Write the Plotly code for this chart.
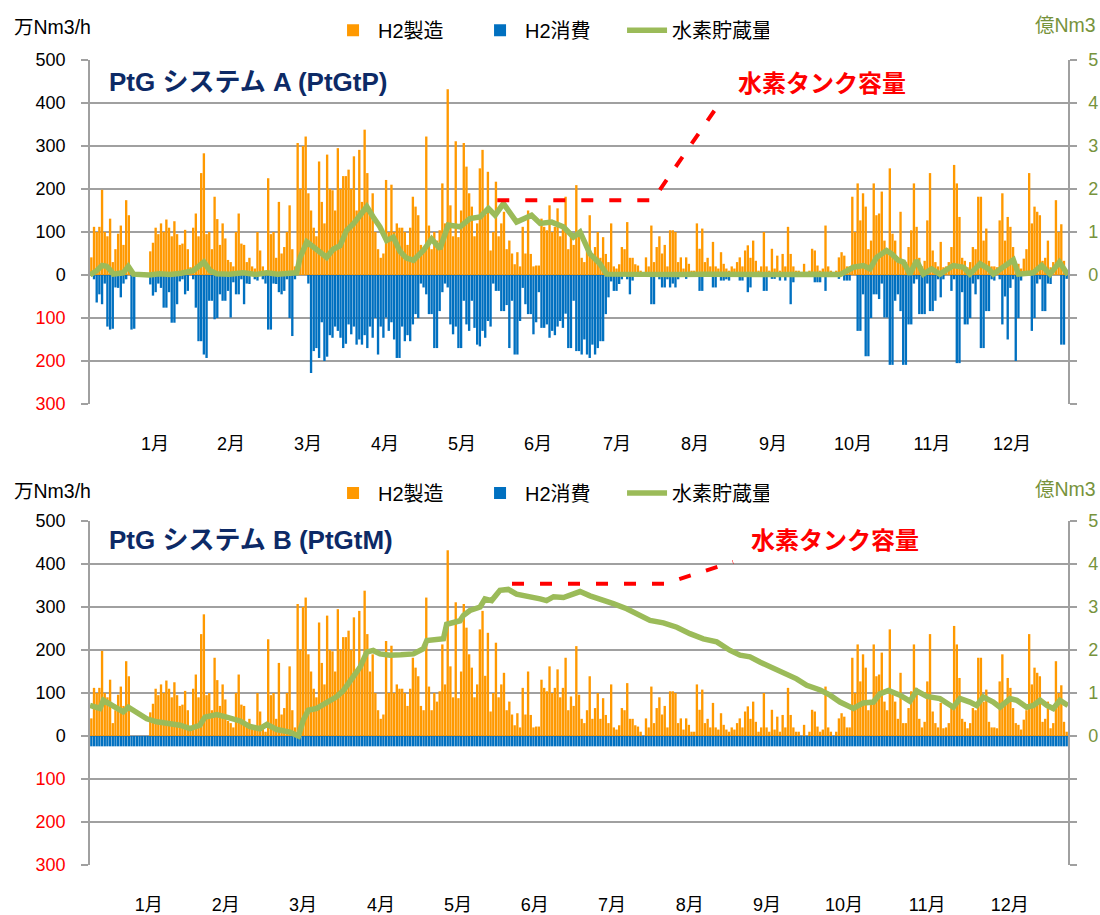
import plotly.graph_objects as go
from plotly.subplots import make_subplots

# ---------------- data ----------------
MONTHS = ["1月", "2月", "3月", "4月", "5月", "6月", "7月", "8月", "9月", "10月", "11月", "12月"]

# daily peak of hydrogen production, 万Nm3/h (same for both systems)
PRODUCTION = [
    41, 112, 100, 112, 198, 100, 90, 131, 30, 60, 96, 115, 70, 174, 139, 0, 0, 0, 0, 0,
    0, 0, 55, 75, 110, 95, 120, 100, 129, 110, 90, 125, 95, 70, 73, 105, 60, 18, 110, 143,
    90, 237, 283, 95, 100, 60, 182, 130, 70, 120, 85, 35, 30, 20, 100, 143, 73, 70, 30, 40,
    20, 15, 100, 57, 20, 10, 225, 95, 100, 40, 170, 50, 65, 100, 162, 60, 20, 307, 200, 300,
    322, 190, 150, 110, 90, 264, 170, 120, 280, 200, 197, 150, 295, 200, 230, 230, 245, 200, 276, 150,
    291, 170, 338, 237, 150, 190, 100, 60, 40, 50, 221, 100, 210, 100, 120, 110, 110, 100, 70, 110,
    182, 159, 139, 70, 60, 322, 115, 60, 100, 80, 104, 213, 120, 432, 162, 90, 311, 88, 150, 307,
    252, 190, 159, 90, 120, 248, 291, 140, 240, 57, 100, 217, 90, 120, 147, 60, 80, 50, 25, 53,
    20, 112, 50, 150, 49, 20, 22, 22, 131, 112, 104, 162, 100, 112, 155, 90, 112, 182, 60, 92,
    70, 209, 96, 40, 30, 60, 139, 40, 65, 100, 40, 88, 49, 30, 120, 20, 15, 25, 65, 60,
    123, 40, 40, 25, 22, 10, 0, 41, 20, 115, 30, 65, 90, 50, 70, 20, 104, 104, 100, 30,
    41, 15, 41, 26, 10, 10, 120, 61, 108, 30, 40, 20, 77, 20, 15, 53, 26, 15, 10, 20,
    15, 30, 41, 20, 57, 69, 40, 80, 33, 10, 20, 100, 20, 10, 61, 15, 45, 10, 49, 20,
    112, 49, 20, 10, 10, 0, 26, 0, 10, 61, 57, 22, 10, 15, 115, 20, 10, 0, 10, 41,
    53, 45, 20, 20, 182, 100, 213, 127, 190, 159, 60, 80, 213, 139, 143, 194, 80, 60, 248, 96,
    80, 40, 147, 30, 30, 65, 104, 213, 112, 40, 20, 33, 127, 237, 57, 30, 20, 77, 18, 20,
    30, 65, 256, 213, 135, 40, 33, 18, 30, 65, 60, 182, 182, 80, 108, 33, 20, 20, 18, 127,
    190, 80, 135, 112, 65, 30, 26, 15, 38, 60, 237, 120, 159, 147, 139, 33, 40, 80, 18, 30,
    174, 100, 118, 33, 10,
]

# daily peak of hydrogen consumption, system A, 万Nm3/h (drawn downward)
CONSUMPTION_A = [
    0, 10, 64, 45, 68, 20, 120, 127, 125, 29, 30, 52, 20, 10, 0, 127, 125, 0, 0, 0,
    0, 0, 22, 48, 40, 20, 30, 76, 76, 40, 111, 111, 68, 15, 10, 45, 37, 0, 10, 76,
    154, 154, 185, 193, 60, 60, 103, 100, 45, 60, 60, 37, 99, 17, 45, 45, 10, 68, 20, 21,
    0, 10, 13, 0, 10, 20, 127, 127, 20, 21, 40, 45, 37, 10, 100, 142, 10, 0, 0, 0,
    0, 20, 228, 177, 170, 193, 110, 200, 190, 140, 146, 120, 130, 146, 170, 160, 115, 138, 120, 162,
    150, 162, 140, 170, 120, 146, 100, 185, 120, 146, 99, 130, 110, 150, 193, 193, 120, 154, 140, 154,
    115, 91, 100, 20, 29, 45, 91, 91, 170, 170, 84, 40, 20, 29, 115, 138, 120, 170, 170, 60,
    115, 130, 60, 123, 162, 166, 130, 146, 107, 120, 20, 37, 37, 84, 84, 70, 170, 60, 185, 185,
    107, 30, 68, 91, 91, 138, 110, 40, 123, 123, 115, 146, 130, 140, 120, 107, 123, 90, 170, 170,
    60, 177, 177, 185, 150, 185, 193, 162, 185, 170, 154, 154, 91, 52, 15, 37, 37, 21, 10, 0,
    10, 45, 13, 0, 0, 0, 0, 0, 0, 68, 68, 0, 10, 29, 29, 10, 29, 20, 29, 10,
    0, 0, 9, 0, 0, 0, 0, 37, 37, 0, 0, 0, 29, 29, 0, 13, 13, 10, 13, 0,
    0, 0, 13, 13, 0, 40, 29, 0, 0, 0, 0, 37, 37, 0, 9, 9, 0, 13, 0, 13,
    0, 68, 17, 0, 0, 0, 0, 0, 0, 0, 17, 17, 17, 0, 37, 0, 0, 0, 0, 9,
    0, 13, 13, 13, 0, 0, 130, 130, 45, 189, 189, 100, 45, 45, 56, 20, 99, 99, 209, 209,
    60, 45, 84, 209, 209, 115, 115, 20, 10, 91, 91, 91, 20, 84, 84, 60, 10, 52, 10, 0,
    0, 37, 10, 205, 205, 40, 115, 115, 100, 20, 45, 10, 170, 170, 84, 84, 10, 13, 0, 10,
    115, 50, 150, 30, 10, 200, 100, 13, 0, 0, 0, 130, 100, 20, 10, 84, 84, 20, 21, 0,
    0, 0, 162, 162, 9,
]

# system B draws a flat band of about 24 万Nm3/h all year
CONSUMPTION_B = [24] * 365

# hydrogen stored, 億Nm3 : (day of year, value)
STORAGE_A_DAY = [0, 2.5, 4.5, 6.2, 7.5, 8.7, 12.4, 14.3, 16.2, 22, 26, 30, 34, 38.6, 42.5, 44.8, 47.3,
                 52, 57.2, 62, 66, 70, 74.6, 77.1, 78.4, 80.9, 83.4, 85.8, 88.3, 90.8, 93.3, 95.8,
                 98.3, 100.8, 103.3, 105.7, 108.2, 110.7, 113.2, 115.7, 118, 120.7, 124.4, 127.5,
                 130.6, 133.7, 138.1, 141.8, 145.6, 148.7, 151.2, 154.3, 159.2, 164.8, 168, 172.3,
                 176.7, 180.4, 182.9, 186.6, 190.3, 192.8, 200, 210, 220, 230, 240, 250, 260, 270,
                 280, 284.9, 288.6, 291.1, 293.6, 297.3, 299.2, 301.7, 303.6, 306, 308.5, 311,
                 314.1, 317.2, 322.2, 326, 328.4, 332.2, 335.3, 337.1, 342.1, 344.6, 346.5, 352,
                 355.2, 358.3, 361.8, 365]
STORAGE_A = [0, 0.1, 0.22, 0.2, 0.12, 0.02, 0.05, 0.2, 0.02, 0.0, 0.03, 0.01, 0.04, 0.1, 0.3, 0.1, 0.03,
             0.02, 0.05, 0.01, 0.05, 0.02, 0.04, 0.05, 0.4, 0.77, 0.65, 0.53, 0.41, 0.6, 0.68, 1.04,
             1.19, 1.39, 1.59, 1.35, 1.12, 0.8, 0.88, 0.55, 0.4, 0.34, 0.57, 0.84,
             0.61, 1.16, 1.12, 1.31, 1.35, 1.55, 1.39, 1.66, 1.23, 1.39, 1.2, 1.23,
             1.12, 0.88, 1.0, 0.49, 0.26, 0.02, 0.01, 0.02, 0.01, 0.02, 0.01, 0.02, 0.01, 0.02,
             0.01, 0.18, 0.22, 0.14, 0.41, 0.57, 0.49, 0.34, 0.3, 0.02, 0.34, 0.02,
             0.14, 0.02, 0.22, 0.18, 0.02, 0.26, 0.14, 0.02, 0.26, 0.35, 0.02, 0.05,
             0.22, 0.02, 0.3, 0]

STORAGE_B_DAY = [0, 3.7, 5, 8.7, 12.4, 14.3, 17.4, 21.2, 24.9, 29.9, 33.6, 37.3, 41, 42.9, 47.3, 51, 56,
                 59.7, 63.4, 66, 69.7, 74.6, 77.8, 79.6, 81.5, 84.6, 88.3, 92, 94.6, 98.3, 100.8,
                 103.3, 105.7, 108.2, 112, 116, 120.7, 124.4, 125.7, 131.9, 133.1, 138.1, 139.3,
                 141.8, 145.6, 147.4, 149.9, 153, 156.1, 159.2, 163, 168, 170.4, 173, 176.7, 180.4,
                 182.9, 186.6, 190.3, 195.3, 200.3, 205.3, 209, 214, 219, 223.9, 228.9, 233.9,
                 238.9, 242.6, 246.3, 250, 255, 260, 263.7, 267.5, 272.5, 276.2, 279.9, 284.9,
                 288.6, 292.4, 294.8, 298, 302.3, 306, 308.5, 312.3, 317.2, 322.2, 324.7, 328.4,
                 330.9, 333.4, 337.1, 339.6, 343.4, 345.9, 349.6, 352.1, 354.6, 357.1, 359.5,
                 362, 365]
STORAGE_B = [0.71, 0.64, 0.83, 0.71, 0.56, 0.67, 0.56, 0.4, 0.33, 0.3, 0.25, 0.17, 0.25, 0.44, 0.5, 0.44, 0.35,
             0.22, 0.17, 0.27, 0.15, 0.09, 0.0, 0.37, 0.6, 0.64, 0.77, 0.91, 1.06, 1.37, 1.6,
             1.95, 1.99, 1.91, 1.88, 1.89, 1.91, 2.03, 2.22, 2.26, 2.6, 2.68, 2.8,
             2.92, 3.0, 3.19, 3.15, 3.39, 3.41, 3.3, 3.26, 3.19, 3.15, 3.24, 3.22, 3.3,
             3.36, 3.26, 3.19, 3.08, 2.96, 2.81, 2.69, 2.63, 2.53, 2.38, 2.26, 2.19,
             1.99, 1.88, 1.84, 1.72, 1.57, 1.43, 1.33, 1.18, 1.07, 0.95, 0.79, 0.64,
             0.77, 0.79, 0.98, 1.06, 0.95, 0.81, 1.05, 0.92, 0.87, 0.67, 0.87, 0.79,
             0.71, 0.91, 0.79, 0.67, 0.87, 0.83, 0.67, 0.71, 0.83, 0.71, 0.64,
             0.83, 0.71]

# tank capacity marker (leader line towards the label), 億Nm3
TANK_A_DAY = [152, 210, 235]
TANK_A = [1.74, 1.74, 4.0]
TANK_B_DAY = [157.5, 214.5, 240]
TANK_B = [3.54, 3.54, 4.05]

LEFT_TICKS = [-300, -200, -100, 0, 100, 200, 300, 400, 500]
RIGHT_TICKS = [-3, -2, -1, 0, 1, 2, 3, 4, 5]

# ---------------- styling / layout constants ----------------
ORANGE = "#FF9900"
BLUE = "#0070C0"
GREEN = "#9BBB59"
GREEN_TXT = "#77933C"
RED = "#FF0000"
NAVY = "#0D2A66"
GRID = "#A0A0A0"
FONT = "Liberation Sans, Noto Sans CJK JP, sans-serif"

MONTH_POS_A = [24.3, 52.6, 81.4, 110.1, 138.8, 167.2, 196.7, 225.8, 254.9, 284.8, 314.2, 344.1]
MONTH_POS_B = [21.9, 50.7, 79.5, 108.6, 137.3, 166.0, 194.8, 223.8, 252.7, 281.4, 312.4, 343.3]

days = [d + 0.5 for d in range(len(PRODUCTION))]

fig = make_subplots(rows=2, cols=1, specs=[[{"secondary_y": True}], [{"secondary_y": True}]])

panels = [
    (1, CONSUMPTION_A, STORAGE_A_DAY, STORAGE_A, TANK_A_DAY, TANK_A, "legend"),
    (2, CONSUMPTION_B, STORAGE_B_DAY, STORAGE_B, TANK_B_DAY, TANK_B, "legend2"),
]
for row, cons, sday, sval, tday, tval, leg in panels:
    fig.add_trace(go.Bar(x=days, y=PRODUCTION, name="H2製造", marker_color=ORANGE,
                         marker_line_width=0, legend=leg), row=row, col=1, secondary_y=False)
    fig.add_trace(go.Bar(x=days, y=[-v for v in cons], name="H2消費", marker_color=BLUE,
                         marker_line_width=0, legend=leg), row=row, col=1, secondary_y=False)
    fig.add_trace(go.Scatter(x=sday, y=sval, name="水素貯蔵量", mode="lines",
                             line=dict(color=GREEN, width=5.5), legend=leg),
                  row=row, col=1, secondary_y=True)
    fig.add_trace(go.Scatter(x=tday, y=tval, mode="lines", showlegend=False,
                             line=dict(color=RED, width=4, dash="12px,16px")),
                  row=row, col=1, secondary_y=True)

left_text = []
for v in LEFT_TICKS:
    if v < 0:
        left_text.append("<span style='color:#FF0000'>%d</span>" % (-v))
    else:
        left_text.append(str(v))
right_text = [str(v) if v >= 0 else "" for v in RIGHT_TICKS]

top_dom = [0.5727, 1.0]
bot_dom = [0.0, 0.4273]

yprim = dict(range=[-300, 500], tickvals=LEFT_TICKS, ticktext=left_text, showgrid=True,
             gridcolor=GRID, gridwidth=1.5, zeroline=False, showline=True, linecolor=GRID,
             linewidth=1.5, ticks="outside", ticklen=7, tickcolor=GRID, tickwidth=1.5,
             ticklabelstandoff=12, automargin=False,
             tickfont=dict(size=18, color="#000000", family=FONT))
ysec = dict(range=[-3, 5], tickvals=RIGHT_TICKS, ticktext=right_text, showgrid=False,
            zeroline=False, showline=True, linecolor=GRID, linewidth=1.5, ticks="outside",
            ticklen=7, tickcolor=GRID, tickwidth=1.5, ticklabelstandoff=8, automargin=False,
            tickfont=dict(size=18, color=GREEN_TXT, family=FONT))

xcommon = dict(range=[0, 365], showgrid=False, zeroline=False, showline=False, ticks="",
               ticklabelstandoff=27, automargin=False,
               tickfont=dict(size=18, color="#000000", family=FONT))

legend_common = dict(orientation="h", x=0.2434, xanchor="left", yanchor="middle",
                     font=dict(size=20, family=FONT), bgcolor="rgba(0,0,0,0)", itemwidth=40,
                     entrywidth=92, entrywidthmode="pixels", traceorder="normal")

fig.update_layout(
    width=1100, height=915,
    margin=dict(l=90, r=32, t=60, b=50, autoexpand=False),
    paper_bgcolor="white", plot_bgcolor="white",
    barmode="relative", bargap=0.12,
    font=dict(family=FONT, size=16, color="#000000"),
    xaxis=dict(domain=[0, 1], tickvals=MONTH_POS_A, ticktext=MONTHS, **xcommon),
    xaxis2=dict(domain=[0, 1], tickvals=MONTH_POS_B, ticktext=MONTHS, **xcommon),
    yaxis=dict(domain=top_dom, **yprim),
    yaxis2=dict(**ysec),
    yaxis3=dict(domain=bot_dom, **yprim),
    yaxis4=dict(**ysec),
    legend=dict(y=1.037, **legend_common),
    legend2=dict(y=0.462, **legend_common),
    hovermode=False,
)

ann = []
for ytitle, title, ytank, xtank, yunit in [
    (0.9727, "<b>PtG システム A (PtGtP)</b>", 0.9714, 0.748, 1.041),
    (0.4037, "<b>PtG システム B (PtGtM)</b>", 0.4037, 0.7618, 0.465),
]:
    ann.append(dict(x=0.017, y=ytitle, xref="paper", yref="paper", xanchor="left", yanchor="middle",
                    text=title, showarrow=False, font=dict(size=26, color=NAVY, family=FONT)))
    ann.append(dict(x=xtank, y=ytank, xref="paper", yref="paper", xanchor="center", yanchor="middle",
                    text="<b>水素タンク容量</b>", showarrow=False, font=dict(size=24, color=RED, family=FONT)))
    ann.append(dict(x=-0.0798, y=yunit, xref="paper", yref="paper", xanchor="left", yanchor="middle",
                    text="万Nm3/h", showarrow=False, font=dict(size=19.5, color="#000000", family=FONT)))
    ann.append(dict(x=1.0307, y=yunit + 0.002, xref="paper", yref="paper", xanchor="right", yanchor="middle",
                    text="億Nm3", showarrow=False, font=dict(size=19.5, color=GREEN_TXT, family=FONT)))
fig.update_layout(annotations=ann)

fig.write_html("out.html", config={"displayModeBar": False},
               post_script="document.body.style.margin='0';")
